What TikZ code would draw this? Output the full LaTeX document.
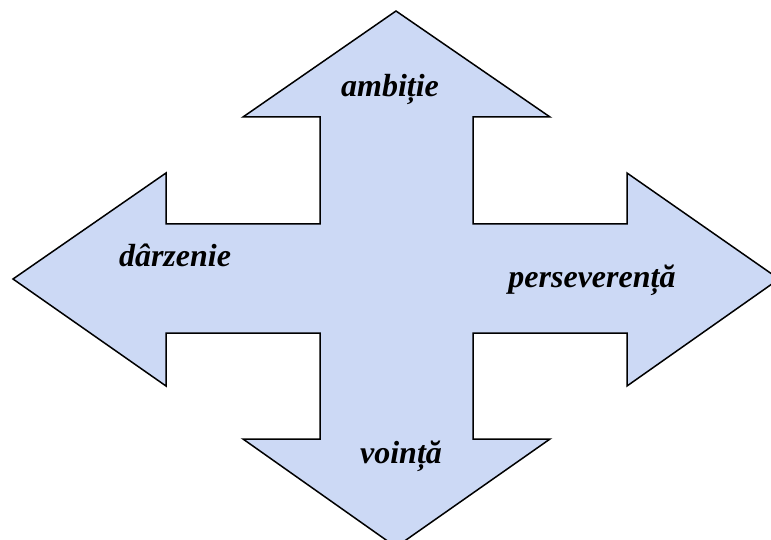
\documentclass[tikz,border=0pt]{standalone}
\usepackage{fontspec}
\setmainfont{Liberation Serif}
\definecolor{arrowfill}{RGB}{204,217,245}

\begin{document}
\begin{tikzpicture}[
    x=1pt, y=-1pt,
    crossarrow/.style={draw=black, fill=arrowfill, line width=1.5pt, line join=miter},
    lbl/.style={font=\fontsize{32}{38}\selectfont\bfseries\itshape, inner sep=0pt, anchor=base}
]
\useasboundingbox (0,0) rectangle (771,540);
% the four-way arrow
\draw[crossarrow] (396,11) -- (550,117) -- (473,117) -- (473,224) -- (627,224) -- (627,173)
    -- (779,279) -- (627,386) -- (627,333) -- (473,333) -- (473,439) -- (550,439)
    -- (396,547) -- (243,439) -- (320,439) -- (320,333) -- (166,333) -- (166,386)
    -- (13,279) -- (166,173) -- (166,224) -- (320,224) -- (320,117) -- (243,117) -- cycle;

\node[lbl] (ambitie) at (390,97) {ambiție};
\node[lbl] (darzenie) at (175,266) {dârzenie};
\node[lbl] (perseverenta) at (592,287) {perseverență};
\node[lbl] (vointa) at (401,463) {voință};
\end{tikzpicture}
\end{document}
